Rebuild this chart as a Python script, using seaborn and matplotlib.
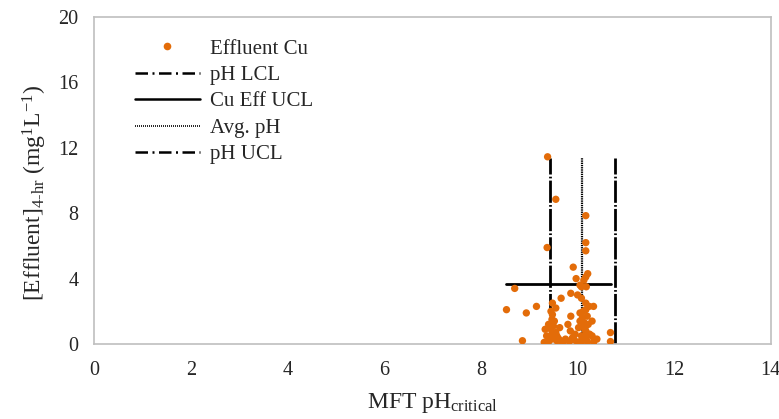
import numpy as np
import pandas as pd
import matplotlib
matplotlib.use("Agg")
import matplotlib.pyplot as plt
import matplotlib.transforms as mtransforms
import seaborn as sns
from matplotlib.lines import Line2D

# ---- data ----
ph_critical = [9.38, 9.55, 10.17, 9.37, 10.17, 10.17,
               9.91, 9.97, 10.17, 10.21, 10.13, 10.08, 10.18, 10.05,
               8.70, 9.86, 10.00, 9.66, 10.08, 10.17, 10.33,
               9.15, 9.48, 8.53, 8.94, 9.55, 9.48, 9.47, 9.52,
               9.86, 10.05, 10.12, 10.17, 9.40, 9.80, 9.63, 9.33,
               10.05, 10.12, 10.17, 10.08, 10.17, 10.34, 10.68, 10.68,
               8.86, 9.31, 9.40, 9.47, 9.57, 9.70, 9.83, 9.93, 10.05, 10.20, 10.33,
               9.47, 9.50, 9.57, 10.10, 10.20, 10.22, 10.15, 10.25, 10.20, 10.10,
               10.00, 9.90, 9.95, 9.75, 9.60, 9.45, 9.50, 9.42, 9.36, 10.40,
               10.30, 9.85, 10.30, 9.65, 9.55, 10.02, 10.24, 9.88, 9.45, 10.14]
cu_effluent = [11.45, 8.85, 7.85, 5.90, 6.20, 5.70,
               4.70, 4.00, 4.10, 4.30, 3.90, 3.50, 3.50, 3.60,
               3.40, 3.10, 3.00, 2.80, 2.80, 2.50, 2.30,
               2.30, 2.50, 2.10, 1.90, 2.20, 1.80, 1.50, 1.40,
               1.70, 1.90, 2.00, 2.10, 1.20, 1.20, 1.00, 0.90,
               1.40, 1.10, 0.80, 0.50, 0.30, 0.30, 0.70, 0.15,
               0.20, 0.10, 0.15, 0.30, 0.20, 0.10, 0.15, 0.25, 0.15, 0.15, 0.10,
               0.60, 0.45, 0.50, 1.60, 1.70, 1.20, 0.90, 0.60, 0.50, 0.20,
               0.10, 0.40, 0.60, 0.30, 0.35, 0.90, 1.10, 0.40, 0.50, 0.30,
               0.50, 0.80, 1.40, 0.20, 0.70, 1.00, 2.30, 0.30, 2.00, 1.30]

ph_lcl = 9.44
ph_avg = 10.10
ph_ucl = 10.77
line_top = 11.4
cu_eff_ucl = 3.65
cu_ucl_x = [8.52, 10.70]

x_ticks = [0, 2, 4, 6, 8, 10, 12, 14]
y_ticks = [0, 4, 8, 12, 16, 20]

df = pd.DataFrame({"pH": ph_critical, "Cu": cu_effluent})

# ---- style ----
sns.set_theme(style="white")
plt.rcParams["font.family"] = ["Liberation Serif", "DejaVu Serif"]
plt.rcParams["mathtext.fontset"] = "custom"
plt.rcParams["mathtext.rm"] = "Liberation Serif"
plt.rcParams["mathtext.it"] = "Liberation Serif:italic"

orange = "#E36C09"
fig = plt.figure(figsize=(7.79, 4.19), dpi=100)
ax = fig.add_axes([94/779, 1-344/419, (771-94)/779, (344-17)/419])

dashdot = (0, (8, 0.8, 0.6, 0.8))

ax.plot([ph_lcl, ph_lcl], [0, line_top], color="black", lw=2, linestyle=dashdot, zorder=2)
ax.plot(cu_ucl_x, [cu_eff_ucl, cu_eff_ucl], color="black", lw=2, zorder=2)
ax.plot([ph_avg, ph_avg], [0, line_top], color="black", lw=1.6, linestyle=(0, (0.6, 0.4)), zorder=2)
ax.plot([ph_ucl, ph_ucl], [0, line_top], color="black", lw=2, linestyle=dashdot, zorder=2)

sns.scatterplot(data=df, x="pH", y="Cu", ax=ax, color=orange, s=28,
                edgecolor="none", zorder=3, legend=False)

ax.set_xlim(0, 14)
ax.set_ylim(0, 20)
ax.set_xticks(x_ticks)
ax.set_yticks(y_ticks)
ax.tick_params(axis="both", labelsize=14.5, length=0)
ax.tick_params(axis="x", pad=12)
ax.tick_params(axis="y", pad=11)
for s in ax.spines.values():
    s.set_color("#BFBFBF")
    s.set_linewidth(1.2)

# nudge the last x tick label so it stays inside the canvas
last_lbl = ax.xaxis.get_major_ticks()[-1].label1
last_lbl.set_horizontalalignment("right")
last_lbl.set_transform(last_lbl.get_transform() +
                       mtransforms.ScaledTranslation(9/100, 0, fig.dpi_scale_trans))

ax.set_xlabel(r"MFT pH$_{\mathrm{critical}}$", fontsize=17, labelpad=8)
ax.set_ylabel(r"[Effluent]$_{\mathrm{4\text{-}hr}}$ (mg$^{\mathrm{1}}$L$^{\mathrm{-1}}$)", fontsize=17)
ax.yaxis.set_label_coords(-0.066, 0.462)

legend_dd = (0, (5, 1.8, 0.8, 1.8))
handles = [
    Line2D([], [], marker="o", color=orange, linestyle="none", markersize=5.5, markeredgewidth=0),
    Line2D([], [], color="black", lw=1.8, linestyle=legend_dd),
    Line2D([], [], color="black", lw=1.8),
    Line2D([], [], color="black", lw=1.2, linestyle=(0, (0.6, 0.6))),
    Line2D([], [], color="black", lw=1.8, linestyle=legend_dd),
]
labels = ["Effluent Cu", "pH LCL", "Cu Eff UCL", "Avg. pH", "pH UCL"]
fig.legend(handles, labels, loc="upper left", bbox_to_anchor=(135/779, 1-39/419),
           frameon=False, fontsize=15, handlelength=3.1, handletextpad=0.5,
           labelspacing=0.33, borderpad=0, borderaxespad=0)

fig.savefig("out.png", dpi=100)
